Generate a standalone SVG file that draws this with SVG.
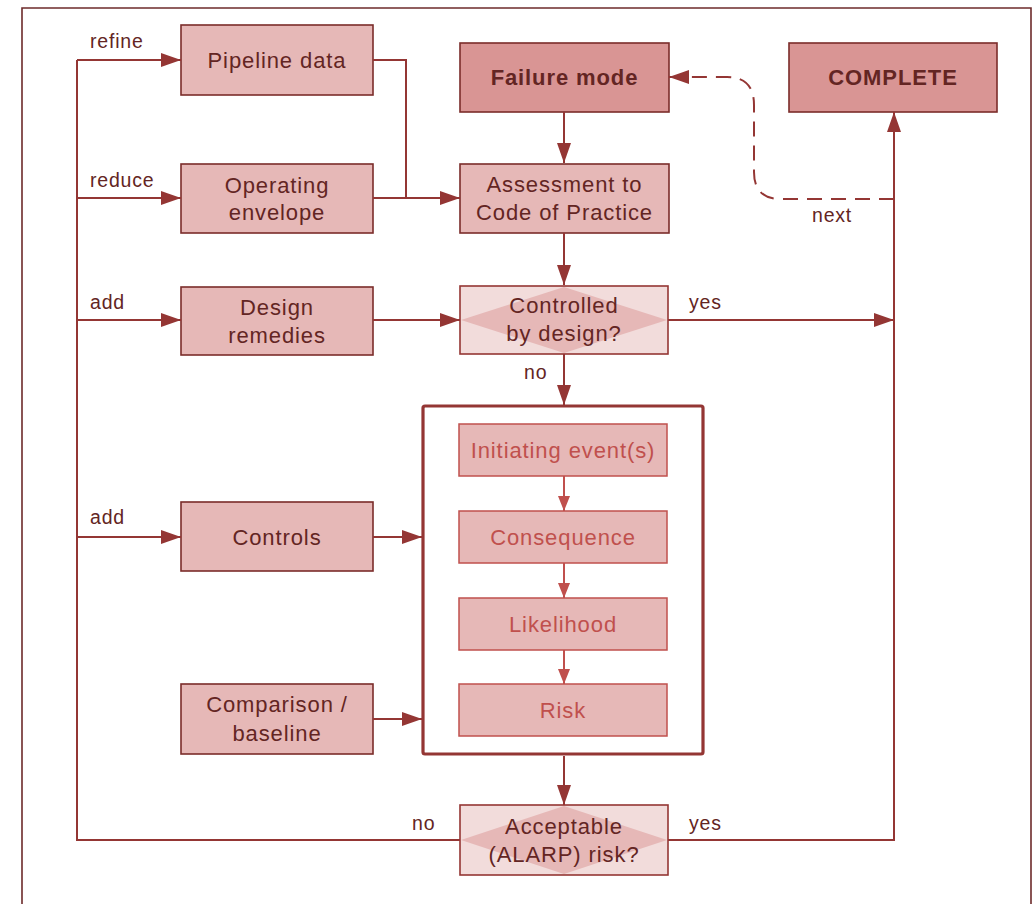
<svg xmlns="http://www.w3.org/2000/svg" width="1035" height="904" viewBox="0 0 1035 904">
<style>
.box{fill:#e6b8b7;stroke:#7b2c2a;stroke-width:1.6}
.hd{fill:#d99594;stroke:#7b2c2a;stroke-width:1.6}
.dec{fill:#f2dcdb;stroke:#943634;stroke-width:1.6}
.dia{fill:#e6b8b7;stroke:none}
.in{fill:#e6b8b7;stroke:#c0504d;stroke-width:1.5}
.t{font-family:"Liberation Sans",Arial,sans-serif;font-size:22px;letter-spacing:0.9px;fill:#632523;text-anchor:middle}
.b{font-weight:bold}
.ti{fill:#c0504d}
.lb{font-family:"Liberation Sans",Arial,sans-serif;font-size:19.5px;letter-spacing:0.8px;fill:#632523}
.c{fill:none;stroke:#943634;stroke-width:2}
.ci{fill:none;stroke:#c0504d;stroke-width:2}
</style>
<defs>
<marker id="ah" markerUnits="userSpaceOnUse" markerWidth="20" markerHeight="14" refX="20" refY="7" orient="auto"><path d="M0,0 L20,7 L0,14 z" fill="#943634"/></marker>
<marker id="ahi" markerUnits="userSpaceOnUse" markerWidth="15" markerHeight="12" refX="15" refY="6" orient="auto"><path d="M0,0 L15,6 L0,12 z" fill="#c0504d"/></marker>
</defs>
<rect width="1035" height="904" fill="#ffffff"/>
<path d="M22,910 V8 H1031 V910" fill="none" stroke="#6d2b2b" stroke-width="1.6"/>

<g id="pipeline-data"><rect class="box" x="181" y="25" width="192" height="70"/><text class="t" x="277" y="68">Pipeline data</text></g>
<g id="operating-envelope"><rect class="box" x="181" y="164" width="192" height="69"/><text class="t" x="277" y="193">Operating</text><text class="t" x="277" y="220">envelope</text></g>
<g id="design-remedies"><rect class="box" x="181" y="287" width="192" height="68"/><text class="t" x="277" y="315">Design</text><text class="t" x="277" y="343">remedies</text></g>
<g id="controls"><rect class="box" x="181" y="502" width="192" height="69"/><text class="t" x="277" y="545">Controls</text></g>
<g id="comparison"><rect class="box" x="181" y="684" width="192" height="70"/><text class="t" x="277" y="712">Comparison /</text><text class="t" x="277" y="741">baseline</text></g>
<g id="failure-mode"><rect class="hd" x="460" y="43" width="209" height="69"/><text class="t b" x="564.5" y="85">Failure mode</text></g>
<g id="complete"><rect class="hd" x="789" y="43" width="208" height="69"/><text class="t b" x="893" y="85">COMPLETE</text></g>
<g id="assessment"><rect class="box" x="460" y="164" width="209" height="69"/><text class="t" x="564.5" y="192">Assessment to</text><text class="t" x="564.5" y="220">Code of Practice</text></g>
<g id="controlled-by-design"><rect class="dec" x="460" y="286" width="208" height="68"/><path class="dia" d="M461,320 L564,287 L667,320 L564,353 z"/><text class="t" x="564" y="313">Controlled</text><text class="t" x="564" y="341">by design?</text></g>
<g id="risk-assessment"><rect x="423" y="406" width="280" height="348" rx="2" fill="#ffffff" stroke="#943634" stroke-width="3.2"/></g>
<g id="initiating-events"><rect class="in" x="459" y="424" width="208" height="52"/><text class="t ti" x="563" y="458">Initiating event(s)</text></g>
<g id="consequence"><rect class="in" x="459" y="511" width="208" height="52"/><text class="t ti" x="563" y="545">Consequence</text></g>
<g id="likelihood"><rect class="in" x="459" y="598" width="208" height="52"/><text class="t ti" x="563" y="632">Likelihood</text></g>
<g id="risk"><rect class="in" x="459" y="684" width="208" height="52"/><text class="t ti" x="563" y="718">Risk</text></g>
<g id="acceptable-risk"><rect class="dec" x="460" y="805" width="208" height="70"/><path class="dia" d="M461,840 L564,806 L667,840 L564,874 z"/><text class="t" x="564" y="834">Acceptable</text><text class="t" x="564" y="862">(ALARP) risk?</text></g>

<g id="connectors">
<path class="c" d="M460,840 H77 V60"/>
<path class="c" d="M77,60 H181" marker-end="url(#ah)"/>
<path class="c" d="M77,198 H181" marker-end="url(#ah)"/>
<path class="c" d="M77,320 H181" marker-end="url(#ah)"/>
<path class="c" d="M77,537 H181" marker-end="url(#ah)"/>
<path class="c" d="M373,60 H406 V198"/>
<path class="c" d="M373,198 H460" marker-end="url(#ah)"/>
<path class="c" d="M564,112 V163" marker-end="url(#ah)"/>
<path class="c" d="M564,233 V285" marker-end="url(#ah)"/>
<path class="c" d="M373,320 H460" marker-end="url(#ah)"/>
<path class="c" d="M668,320 H894" marker-end="url(#ah)"/>
<path class="c" d="M564,354 V405" marker-end="url(#ah)"/>
<path class="c" d="M373,537 H422" marker-end="url(#ah)"/>
<path class="c" d="M373,719 H422" marker-end="url(#ah)"/>
<path class="ci" d="M564,476 V511" marker-end="url(#ahi)"/>
<path class="ci" d="M564,563 V598" marker-end="url(#ahi)"/>
<path class="ci" d="M564,650 V684" marker-end="url(#ahi)"/>
<path class="c" d="M564,756 V805" marker-end="url(#ah)"/>
<path class="c" d="M668,840 H894 V112" marker-end="url(#ah)"/>
<path class="c" d="M894,199 H781 Q754,199 754,172 V105 Q754,77 727,77 H669" stroke-dasharray="15,9" marker-end="url(#ah)"/>
<text class="lb" x="90" y="48">refine</text>
<text class="lb" x="90" y="187">reduce</text>
<text class="lb" x="90" y="309">add</text>
<text class="lb" x="90" y="524">add</text>
<text class="lb" x="689" y="309">yes</text>
<text class="lb" x="524" y="379">no</text>
<text class="lb" x="412" y="830">no</text>
<text class="lb" x="689" y="830">yes</text>
<text class="lb" x="812" y="222">next</text>
</g>
</svg>
